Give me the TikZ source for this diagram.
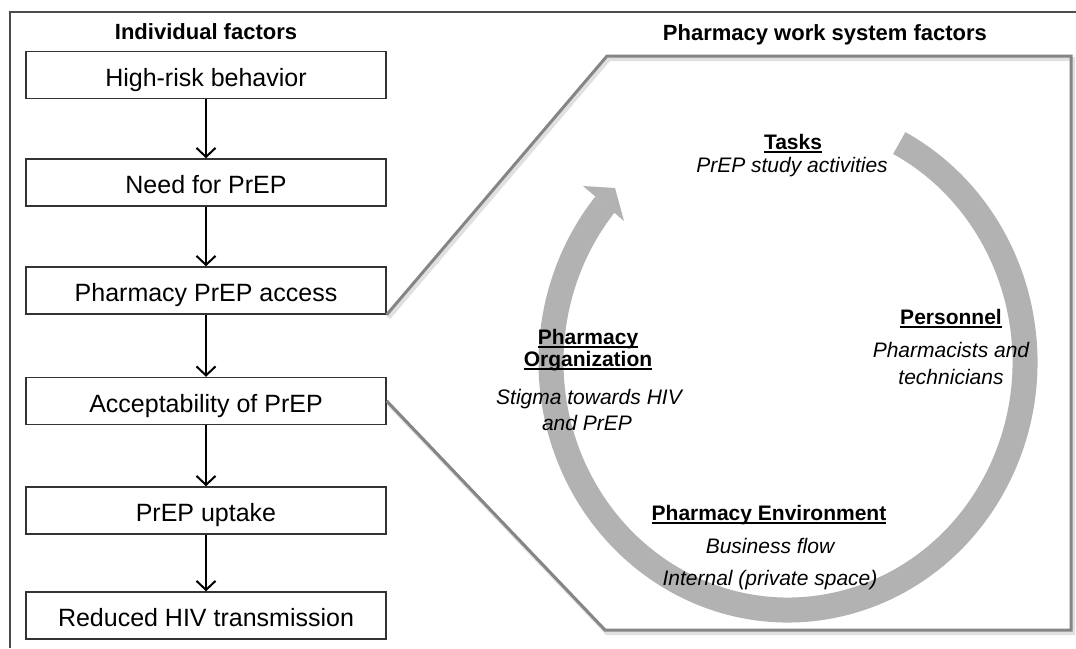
\documentclass[tikz,border=0pt]{standalone}
\usepackage{fontspec}
\setmainfont{Liberation Sans}
\usetikzlibrary{arrows.meta,calc}
\newcommand{\myul}[1]{\setbox0\hbox{#1}\rlap{\raisebox{-3.5pt}{\rule{\wd0}{1.4pt}}}\box0}
\begin{document}
\begin{tikzpicture}[x=1pt,y=-1pt,
  box/.style={draw=black!80, line width=1.4pt, minimum width=360pt, minimum height=47pt,
    font=\fontsize{25}{30}\selectfont, inner sep=0pt, text height=22pt, text depth=0pt},
  flow/.style={draw=black, line width=1.8pt, -{Straight Barb[length=9pt,width=19pt,line width=2pt]}},
  title/.style={font=\bfseries\fontsize{22}{26}\selectfont, anchor=base, inner sep=0pt},
  head/.style={font=\bfseries\fontsize{21}{25}\selectfont, anchor=base, inner sep=0pt},
  desc/.style={font=\itshape\fontsize{21}{25}\selectfont, anchor=base, inner sep=0pt},
  frame/.style={draw=black!70, line width=1.6pt},
  trap/.style={draw=black!48, line width=3pt, line join=miter},
  trapshadow/.style={draw=black!12, line width=4pt, line join=miter},
  ring/.style={draw=black!30, line width=25pt},
  ringhead/.style={fill=black!30}
]
\useasboundingbox (0,0) rectangle (1076,648);
\fill[white] (0,0) rectangle (1076,648);

% outer frame
\coordinate (fa) at (1076,12);
\coordinate (fb) at (10,12);
\coordinate (fc) at (10,648);
\draw[frame] (fa) -- (fb) -- (fc);

% titles
\node[title] (tind) at (206,39) {Individual factors};
\node[title] (tpws) at (825,40) {Pharmacy work system factors};

% individual factor boxes
\node[box] (b1) at (206,75) {High-risk behavior};
\node[box] (b2) at (206,182.5) {Need for PrEP};
\node[box] (b3) at (206,290.5) {Pharmacy PrEP access};
\node[box] (b4) at (206,401) {Acceptability of PrEP};
\node[box] (b5) at (206,510.5) {PrEP uptake};
\node[box] (b6) at (206,615.5) {Reduced HIV transmission};

\draw[flow] (b1) -- (b2);
\draw[flow] (b2) -- (b3);
\draw[flow] (b3) -- (b4);
\draw[flow] (b4) -- (b5);
\draw[flow] (b5) -- (b6);

% trapezoid (zoom)
\coordinate (t1) at (607,56);
\coordinate (t2) at (1071,56);
\coordinate (t3) at (1071,630);
\coordinate (t4) at (605,630);
\draw[trapshadow] ($(b3.south east)+(2,3)$) -- ($(t1)+(2,3)$) -- ($(t2)+(2,3)$) -- ($(t3)+(2,3)$) -- ($(t4)+(2,3)$) -- ($(b4.east)+(2,3)$);
\draw[trap] (b3.south east) -- (t1) -- (t2) -- (t3) -- (t4) -- (b4.east);

% cycle ring
\coordinate (rc) at (788,362);
\draw[ring] ([shift={(-62:237 and 248)}]rc) arc[start angle=-62, end angle=219.5, x radius=237, y radius=248];
\coordinate (h1) at (583,186);
\coordinate (h2) at (615,188);
\coordinate (h3) at (624,221);
\fill[ringhead] (h1) -- (h2) -- (h3) -- cycle;

% ring labels
\node[head] (tkh) at (793,149) {\myul{Tasks}};
\node[desc] (tkd) at (792,172) {PrEP study activities};

\node[head] (orh1) at (588,344) {\myul{Pharmacy}};
\node[head] (orh2) at (588,366) {\myul{Organization}};
\node[desc] (ord1) at (589,404) {Stigma towards HIV};
\node[desc] (ord2) at (587,430) {and PrEP};

\node[head] (peh) at (951,324) {\myul{Personnel}};
\node[desc] (ped1) at (951,357) {Pharmacists and};
\node[desc] (ped2) at (951,384) {technicians};

\node[head] (enh) at (769,520) {\myul{Pharmacy Environment}};
\node[desc] (end1) at (770,553) {Business flow};
\node[desc] (end2) at (770,585) {Internal (private space)};
\end{tikzpicture}
\end{document}
